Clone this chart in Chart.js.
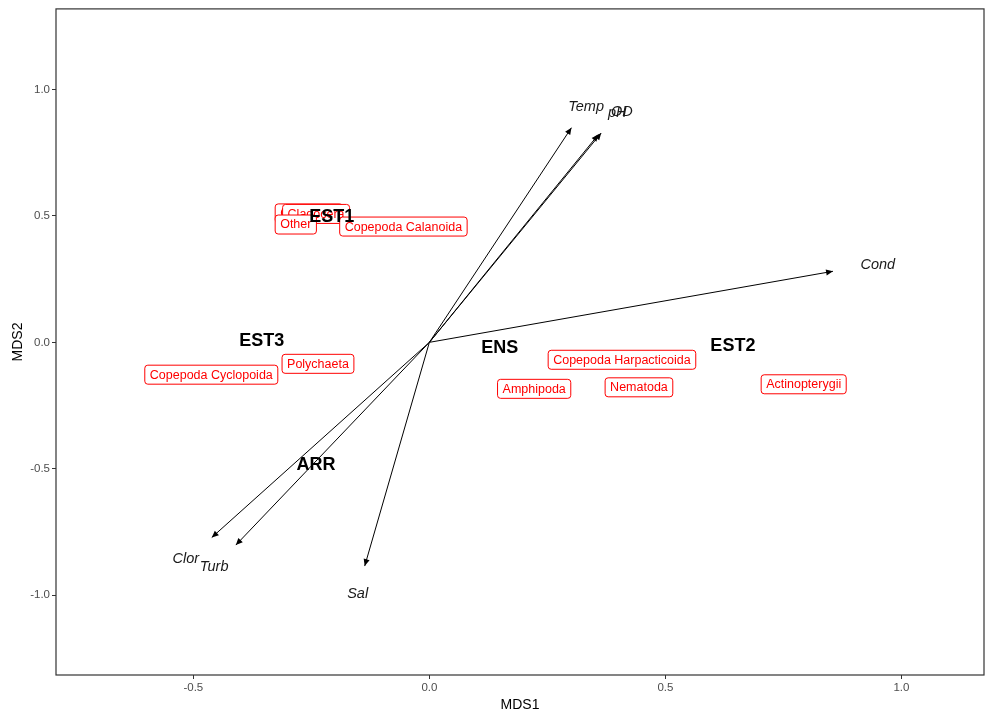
<!DOCTYPE html>
<html><head><meta charset="utf-8">
<script src="https://cdn.jsdelivr.net/npm/chart.js@4/dist/chart.umd.min.js"></script>
<style>html,body{margin:0;padding:0;background:#fff}#wrap{width:985px;height:717px}</style>
</head><body><div id="wrap"><canvas id="c" width="985" height="717"></canvas></div>
<script>
// ---- data ----
const xTicks = [-0.5, 0, 0.5, 1.0];
const yTicks = [-1.0, -0.5, 0, 0.5, 1.0];

const vectors   = ['Temp', 'pH', 'OD', 'Cond', 'Sal', 'Clor', 'Turb'];
const vecX      = [0.301, 0.358, 0.364, 0.855, -0.137, -0.461, -0.410];
const vecY      = [0.849, 0.822, 0.828, 0.281, -0.885, -0.772, -0.802];
const vecLabelX = [0.332, 0.398, 0.408, 0.950, -0.152, -0.516, -0.456];
const vecLabelY = [0.933, 0.908, 0.912, 0.308, -0.996, -0.858, -0.889];

const species  = ['Ostracoda', 'Cladocera', 'Other', 'Copepoda Calanoida', 'Polychaeta',
                  'Copepoda Cyclopoida', 'Copepoda Harpacticoida', 'Amphipoda', 'Nematoda', 'Actinopterygii'];
const speciesX = [-0.255, -0.240, -0.283, -0.055, -0.236, -0.462, 0.408, 0.222, 0.444, 0.793];
const speciesY = [0.510, 0.508, 0.466, 0.458, -0.085, -0.128, -0.069, -0.184, -0.178, -0.166];

const sites  = ['EST1', 'EST3', 'ENS', 'EST2', 'ARR'];
const siteX  = [-0.207, -0.355, 0.149, 0.643, -0.240];
const siteY  = [0.494, 0.004, -0.024, -0.016, -0.486];

// ---- chart ----
const FONT = '"Liberation Sans", Arial, Helvetica, sans-serif';

const datasets = vectors.map((v, i) => ({
  label: v,
  data: [{x: 0, y: 0}, {x: vecX[i], y: vecY[i]}],
  showLine: true,
  borderColor: '#000',
  borderWidth: 1,
  pointRadius: 0,
  pointHoverRadius: 0,
  fill: false
}));

function roundRect(ctx, x, y, w, h, r) {
  ctx.beginPath();
  ctx.moveTo(x + r, y);
  ctx.lineTo(x + w - r, y);
  ctx.arcTo(x + w, y, x + w, y + r, r);
  ctx.lineTo(x + w, y + h - r);
  ctx.arcTo(x + w, y + h, x + w - r, y + h, r);
  ctx.lineTo(x + r, y + h);
  ctx.arcTo(x, y + h, x, y + h - r, r);
  ctx.lineTo(x, y + r);
  ctx.arcTo(x, y, x + r, y, r);
  ctx.closePath();
}

const overlay = {
  id: 'overlay',
  afterDatasetsDraw(chart) {
    const ctx = chart.ctx, xs = chart.scales.x, ys = chart.scales.y;
    const ca = chart.chartArea;
    ctx.save();
    // arrow heads
    ctx.fillStyle = '#000';
    vectors.forEach((v, i) => {
      const x0 = xs.getPixelForValue(0), y0 = ys.getPixelForValue(0);
      const x1 = xs.getPixelForValue(vecX[i]), y1 = ys.getPixelForValue(vecY[i]);
      const ang = Math.atan2(y1 - y0, x1 - x0);
      const L = 7.5, a = Math.PI / 7.5;
      ctx.beginPath();
      ctx.moveTo(x1, y1);
      ctx.lineTo(x1 - L * Math.cos(ang - a), y1 - L * Math.sin(ang - a));
      ctx.lineTo(x1 - L * Math.cos(ang + a), y1 - L * Math.sin(ang + a));
      ctx.closePath();
      ctx.fill();
    });
    // vector labels
    ctx.font = 'italic 14.5px ' + FONT;
    ctx.fillStyle = '#1a1a1a';
    ctx.textAlign = 'center';
    ctx.textBaseline = 'middle';
    vectors.forEach((v, i) => {
      ctx.fillText(v, xs.getPixelForValue(vecLabelX[i]), ys.getPixelForValue(vecLabelY[i]));
    });
    // species labels
    ctx.font = '12.5px ' + FONT;
    species.forEach((s, i) => {
      const cx = xs.getPixelForValue(speciesX[i]), cy = ys.getPixelForValue(speciesY[i]);
      const w = ctx.measureText(s).width + 10, h = 19;
      roundRect(ctx, cx - w / 2, cy - h / 2, w, h, 3);
      ctx.fillStyle = '#fff';
      ctx.fill();
      ctx.strokeStyle = '#ff0000';
      ctx.lineWidth = 1;
      ctx.stroke();
      ctx.fillStyle = '#ff0000';
      ctx.fillText(s, cx, cy + 0.5);
    });
    // site labels
    ctx.font = 'bold 18px ' + FONT;
    ctx.fillStyle = '#000';
    sites.forEach((s, i) => {
      ctx.fillText(s, xs.getPixelForValue(siteX[i]), ys.getPixelForValue(siteY[i]));
    });
    // panel border
    ctx.strokeStyle = '#333';
    ctx.lineWidth = 1.2;
    ctx.strokeRect(ca.left, ca.top, ca.right - ca.left, ca.bottom - ca.top);
    ctx.restore();
  }
};

new Chart(document.getElementById('c'), {
  type: 'scatter',
  data: { datasets },
  plugins: [overlay],
  options: {
    responsive: false,
    animation: false,
    devicePixelRatio: 1,
    layout: { padding: { top: 8, right: 1, left: 0, bottom: 0 } },
    plugins: { legend: { display: false }, tooltip: { enabled: false } },
    events: [],
    scales: {
      x: {
        type: 'linear',
        min: -0.791, max: 1.175,
        afterBuildTicks: s => { s.ticks = xTicks.map(v => ({ value: v })); },
        afterFit: s => { s.height = 42; },
        grid: { display: true, drawOnChartArea: false, drawTicks: true, tickLength: 4, color: '#333' },
        border: { display: false },
        ticks: {
          color: '#4d4d4d', font: { family: FONT, size: 11.5 }, padding: 2,
          maxRotation: 0, autoSkip: false,
          callback: v => Number(v).toFixed(1)
        },
        title: { display: true, text: 'MDS1', color: '#000', font: { family: FONT, size: 14 },
                 padding: { top: 0, bottom: 3 } }
      },
      y: {
        type: 'linear',
        min: -1.316, max: 1.319,
        afterBuildTicks: s => { s.ticks = yTicks.map(v => ({ value: v })); },
        afterFit: s => { s.width = 56; },
        grid: { display: true, drawOnChartArea: false, drawTicks: true, tickLength: 4, color: '#333' },
        border: { display: false },
        ticks: {
          color: '#4d4d4d', font: { family: FONT, size: 11.5 }, padding: 2, autoSkip: false,
          callback: v => Number(v).toFixed(1)
        },
        title: { display: true, text: 'MDS2', color: '#000', font: { family: FONT, size: 14 },
                 padding: { top: 10, bottom: 0 } }
      }
    }
  }
});
</script>
</body></html>
